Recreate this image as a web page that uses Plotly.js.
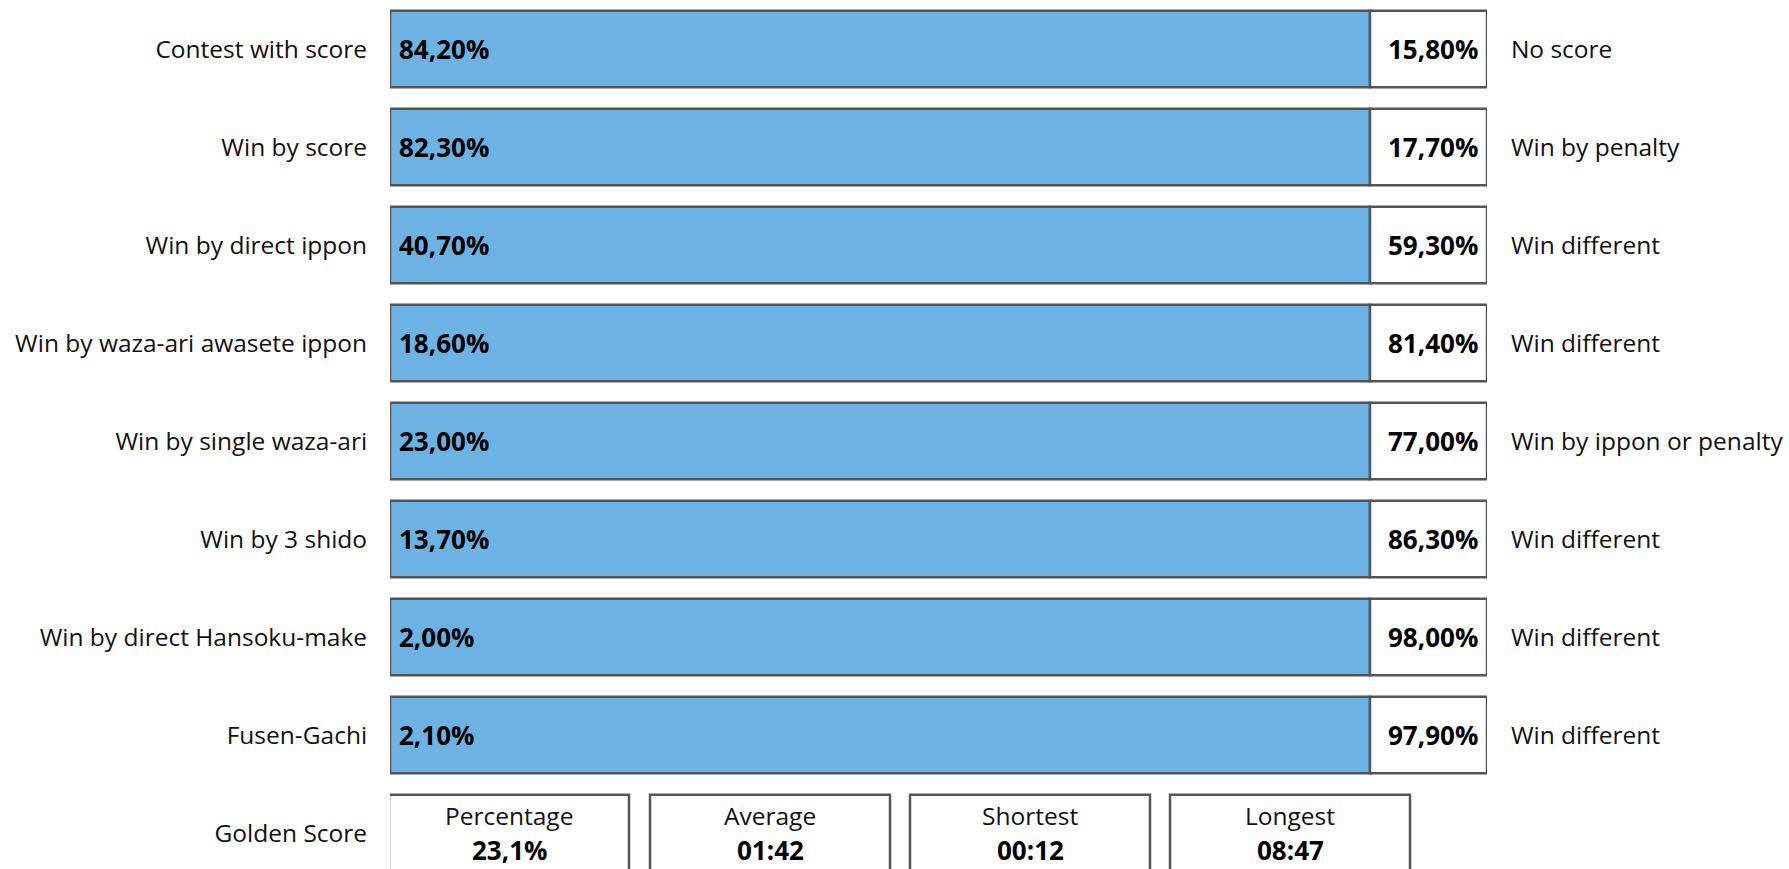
<!DOCTYPE html>
<html>
<head>
<meta charset="utf-8">
<script src="https://cdn.plot.ly/plotly-3.0.1.min.js"></script>
<style>
  html, body { margin: 0; padding: 0; background: #ffffff; }
  #chart { width: 1789px; height: 869px; }
</style>
</head>
<body>
<div id="chart"></div>
<script>
// ---------- DATA ----------
const rowLabels = [
  'Contest with score',
  'Win by score',
  'Win by direct ippon',
  'Win by waza-ari awasete ippon',
  'Win by single waza-ari',
  'Win by 3 shido',
  'Win by direct Hansoku-make',
  'Fusen-Gachi',
  'Golden Score'
];
const leftPct  = [84.2, 82.3, 40.7, 18.6, 23.0, 13.7, 2.0, 2.1];
const rightPct = [15.8, 17.7, 59.3, 81.4, 77.0, 86.3, 98.0, 97.9];
const rightLabels = [
  'No score',
  'Win by penalty',
  'Win different',
  'Win different',
  'Win by ippon or penalty',
  'Win different',
  'Win different',
  'Win different'
];
const gsLabels = ['Percentage', 'Average', 'Shortest', 'Longest'];
const gsValues = ['23,1%', '01:42', '00:12', '08:47'];

// ---------- LAYOUT CONSTANTS ----------
const FONT = 'Open Sans, Noto Sans, sans-serif';
const BLUE = '#6cb3e3';
const EDGE = '#555555';
const SPAN_BLUE = 980;      // fixed width of the blue cell (axis units = px)
const SPAN_WHITE = 117;     // fixed width of the white cell
const XMAX = SPAN_BLUE + SPAN_WHITE;
const GS_START = [-1, 260, 520, 780];
const GS_WIDTH = [240, 240, 240, 240];
const ROW_PITCH = 98;
const H = 869;
const LABEL_SIZE = 24.5;
const VALUE_SIZE = 26;

const fmt = v => v.toFixed(2).replace('.', ',') + '%';
const idx = leftPct.map((_, i) => i);
const gsRow = rowLabels.length - 1;

const yTop = -0.5;
const yBottom = yTop + H / ROW_PITCH;

const traces = [
  {
    type: 'bar', orientation: 'h',
    y: idx, x: idx.map(() => SPAN_BLUE), base: idx.map(() => 0),
    width: 0.78,
    marker: { color: BLUE, line: { color: EDGE, width: 2.5 } },
    hoverinfo: 'skip', showlegend: false
  },
  {
    type: 'bar', orientation: 'h',
    y: idx, x: idx.map(() => SPAN_WHITE), base: idx.map(() => SPAN_BLUE),
    width: 0.78,
    marker: { color: '#ffffff', line: { color: EDGE, width: 2.5 } },
    hoverinfo: 'skip', showlegend: false
  },
  {
    type: 'bar', orientation: 'h',
    y: gsLabels.map(() => gsRow), x: GS_WIDTH, base: GS_START,
    width: 0.78,
    marker: { color: '#ffffff', line: { color: EDGE, width: 2.5 } },
    hoverinfo: 'skip', showlegend: false
  },
  {
    type: 'scatter', mode: 'markers', x: [0], y: [0], yaxis: 'y2',
    marker: { opacity: 0 }, hoverinfo: 'skip', showlegend: false
  }
];

const annotations = [];
idx.forEach(i => {
  annotations.push({
    x: 0, y: i, xref: 'x', yref: 'y', xanchor: 'left', yanchor: 'middle',
    xshift: 7, text: '<b>' + fmt(leftPct[i]) + '</b>', showarrow: false,
    font: { family: FONT, size: VALUE_SIZE, color: '#000000' }
  });
  annotations.push({
    x: XMAX, y: i, xref: 'x', yref: 'y', xanchor: 'right', yanchor: 'middle',
    xshift: -7, text: '<b>' + fmt(rightPct[i]) + '</b>', showarrow: false,
    font: { family: FONT, size: VALUE_SIZE, color: '#000000' }
  });
});
gsLabels.forEach((lab, k) => {
  const cx = GS_START[k] + GS_WIDTH[k] / 2;
  annotations.push({
    x: cx, y: gsRow, xref: 'x', yref: 'y', xanchor: 'center', yanchor: 'middle',
    yshift: 18, text: lab, showarrow: false,
    font: { family: FONT, size: LABEL_SIZE, color: '#111111' }
  });
  annotations.push({
    x: cx, y: gsRow, xref: 'x', yref: 'y', xanchor: 'center', yanchor: 'middle',
    yshift: -17, text: '<b>' + gsValues[k] + '</b>', showarrow: false,
    font: { family: FONT, size: VALUE_SIZE, color: '#000000' }
  });
});

const layout = {
  width: 1789, height: H,
  margin: { l: 390, r: 302, t: 0, b: 0, pad: 0 },
  paper_bgcolor: '#ffffff', plot_bgcolor: '#ffffff',
  barmode: 'overlay',
  showlegend: false,
  xaxis: {
    range: [0, XMAX], showgrid: false, zeroline: false, showline: false,
    showticklabels: false, ticks: '', fixedrange: true
  },
  yaxis: {
    range: [yBottom, yTop], tickmode: 'array',
    tickvals: rowLabels.map((_, i) => i), ticktext: rowLabels,
    showgrid: false, zeroline: false, showline: false,
    ticks: 'outside', ticklen: 17, tickcolor: 'rgba(0,0,0,0)',
    tickfont: { family: FONT, size: LABEL_SIZE, color: '#111111' },
    fixedrange: true
  },
  yaxis2: {
    overlaying: 'y', side: 'right', anchor: 'x',
    range: [yBottom, yTop], tickmode: 'array',
    tickvals: rightLabels.map((_, i) => i), ticktext: rightLabels,
    showgrid: false, zeroline: false, showline: false,
    ticks: 'outside', ticklen: 18, tickcolor: 'rgba(0,0,0,0)',
    tickfont: { family: FONT, size: LABEL_SIZE, color: '#111111' },
    fixedrange: true
  },
  annotations: annotations
};

Plotly.newPlot('chart', traces, layout, { displayModeBar: false, staticPlot: true });
</script>
</body>
</html>
